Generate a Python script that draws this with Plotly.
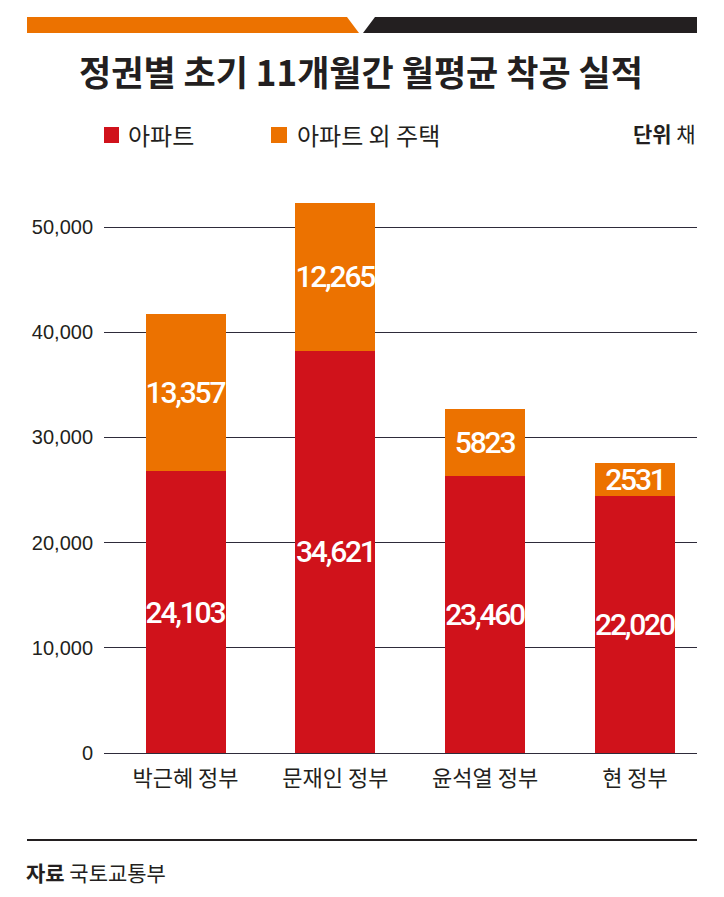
import plotly.graph_objects as go

# data
governments = ["박근혜 정부", "문재인 정부", "윤석열 정부", "현 정부"]
# bar heights as drawn in the picture (read against its axis)
apt_heights = [26800, 38240, 26330, 24430]
other_heights = [14930, 14040, 6400, 3110]
# values printed on the bars
apt_labels = ["24,103", "34,621", "23,460", "22,020"]
other_labels = ["13,357", "12,265", "5823", "2531"]
y_ticks = [0, 10000, 20000, 30000, 40000, 50000]

RED = "#D0121B"
ORANGE = "#EC7200"
DARK = "#231F20"
KR = "Noto Sans CJK KR"
NUM = "Roboto, Liberation Sans, sans-serif"

W, H = 724, 897
L, R, T, B = 104, 697, 190, 753  # plot area in pixels


def px(x):
    return (x - L) / (R - L)


def py(y):
    return (B - y) / (B - T)


def tight(s):
    # narrow the numbers a bit, the original uses a condensed face
    return f'<span style="letter-spacing:-2.2px">{s}</span>'


fig = go.Figure()
fig.add_trace(go.Bar(
    x=governments, y=apt_heights, name="아파트",
    marker=dict(color=RED, line=dict(width=0)),
    text=[tight(s) for s in apt_labels], textposition="inside", insidetextanchor="middle",
    textangle=0, constraintext="none",
    textfont=dict(family=NUM, size=30, color="white", weight=500),
))
fig.add_trace(go.Bar(
    x=governments, y=other_heights, name="아파트 외 주택",
    marker=dict(color=ORANGE, line=dict(width=0)),
    text=[tight(s) for s in other_labels], textposition="inside", insidetextanchor="middle",
    textangle=0, constraintext="none",
    textfont=dict(family=NUM, size=30, color="white", weight=500),
))

shapes = []
# top banner
shapes.append(dict(type="path", xref="paper", yref="paper",
                   path=f"M {px(27)},{py(17)} L {px(347)},{py(17)} L {px(359)},{py(33)} L {px(27)},{py(33)} Z",
                   fillcolor=ORANGE, line=dict(width=0)))
shapes.append(dict(type="path", xref="paper", yref="paper",
                   path=f"M {px(375)},{py(17)} L {px(697)},{py(17)} L {px(697)},{py(33)} L {px(363)},{py(33)} Z",
                   fillcolor=DARK, line=dict(width=0)))
# legend squares
shapes.append(dict(type="rect", xref="paper", yref="paper",
                   x0=px(104), x1=px(119), y0=py(143), y1=py(127),
                   fillcolor=RED, line=dict(width=0)))
shapes.append(dict(type="rect", xref="paper", yref="paper",
                   x0=px(271), x1=px(287), y0=py(143), y1=py(127),
                   fillcolor=ORANGE, line=dict(width=0)))
# bottom rule
shapes.append(dict(type="line", xref="paper", yref="paper",
                   x0=px(27), x1=px(697), y0=py(840), y1=py(840),
                   line=dict(color=DARK, width=2)))

annotations = [
    dict(text="아파트", x=px(126), y=py(135), xanchor="left", yanchor="middle",
         font=dict(family=KR, size=24, color=DARK)),
    dict(text="아파트 외 주택", x=px(295), y=py(135), xanchor="left", yanchor="middle",
         font=dict(family=KR, size=24, color=DARK)),
    dict(text="<b>단위</b> 채", x=px(698), y=py(133), xanchor="right", yanchor="middle",
         font=dict(family=KR, size=21, color=DARK)),
    dict(text="<b>자료</b> 국토교통부", x=px(24), y=py(872), xanchor="left", yanchor="middle",
         font=dict(family=KR, size=21, color=DARK)),
]
for a in annotations:
    a.update(xref="paper", yref="paper", showarrow=False)

fig.update_layout(
    width=W, height=H,
    margin=dict(l=L, r=W - R, t=T, b=H - B, pad=0),
    paper_bgcolor="white", plot_bgcolor="white",
    barmode="stack", bargap=0.466,
    showlegend=False,
    title=dict(text="<b>정권별 초기 11개월간 월평균 착공 실적</b>",
               x=361 / W, xref="container", xanchor="center",
               y=1 - 74 / H, yref="container", yanchor="middle",
               font=dict(family=KR, size=35, color=DARK)),
    shapes=shapes, annotations=annotations,
)
fig.update_xaxes(type="category", range=[-0.544, 3.414],
                 showgrid=False, zeroline=False, showline=False, ticks="",
                 tickfont=dict(family=KR, size=22, color=DARK),
                 ticklabelstandoff=10)
fig.update_yaxes(range=[0, 50000 * (B - T) / (B - 227)],
                 tickvals=y_ticks, tickformat=",d",
                 showgrid=True, gridcolor="#2E2B3A", gridwidth=1,
                 zeroline=True, zerolinecolor="#2E2B3A", zerolinewidth=1,
                 showline=False, ticks="",
                 tickfont=dict(family="Liberation Sans, Arial, sans-serif", size=20, color=DARK),
                 ticklabelstandoff=10)

# the page's default body margin would push the figure 8px off
fig.write_html("out.html", config={"displayModeBar": False},
               post_script="document.body.style.margin='0px';")
